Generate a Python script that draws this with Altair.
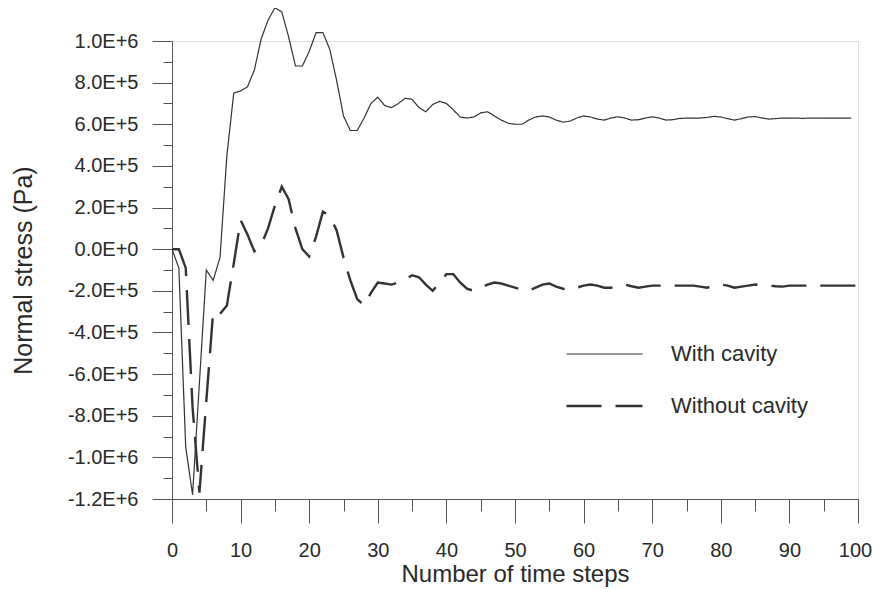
import altair as alt
import pandas as pd

# ---- data (stress values in units of 1E+5 Pa) ----
steps_with = list(range(0, 100))
with_cavity = [
    0.0, -0.9, -9.5, -11.8, -6.4, -1.0, -1.5, -0.4, 4.5, 7.5,
    7.6, 7.8, 8.6, 10.1, 11.0, 11.6, 11.4, 10.2, 8.8, 8.8,
    9.5, 10.4, 10.4, 9.6, 8.1, 6.4, 5.7, 5.7, 6.3, 7.0,
    7.3, 6.9, 6.8, 7.0, 7.25, 7.2, 6.8, 6.6, 6.95, 7.1,
    7.0, 6.7, 6.35, 6.3, 6.35, 6.55, 6.6, 6.4, 6.2, 6.05,
    6.0, 6.0, 6.2, 6.35, 6.4, 6.35, 6.2, 6.1, 6.15, 6.3,
    6.4, 6.35, 6.25, 6.2, 6.3, 6.36, 6.3, 6.2, 6.22, 6.3,
    6.36, 6.3, 6.2, 6.22, 6.28, 6.3, 6.3, 6.3, 6.33, 6.38,
    6.35, 6.27, 6.2, 6.27, 6.35, 6.37, 6.3, 6.25, 6.27, 6.3,
    6.3, 6.3, 6.28, 6.3, 6.3, 6.3, 6.3, 6.3, 6.3, 6.3,
]
steps_without = list(range(0, 101))
without_cavity = [
    0.0, 0.0, -0.9, -7.6, -11.7, -7.3, -3.0, -3.1, -2.7, -0.7,
    1.4, 0.7, -0.1, 0.2, 1.0, 2.1, 3.0, 2.4, 1.0, 0.0,
    -0.35, 0.6, 1.8, 1.6, 0.9, -0.4, -1.5, -2.4, -2.7, -2.1,
    -1.6, -1.65, -1.7, -1.6, -1.45, -1.25, -1.35, -1.7, -2.0, -1.6,
    -1.2, -1.2, -1.6, -1.9, -2.0, -1.85, -1.7, -1.6, -1.65, -1.75,
    -1.85, -1.95, -2.0, -1.85, -1.7, -1.65, -1.8, -1.9, -1.95, -1.85,
    -1.75, -1.7, -1.75, -1.85, -1.85, -1.78, -1.7, -1.78, -1.85, -1.8,
    -1.75, -1.75, -1.75, -1.75, -1.75, -1.75, -1.75, -1.8, -1.85, -1.75,
    -1.7, -1.75, -1.85, -1.8, -1.75, -1.7, -1.72, -1.75, -1.78, -1.8,
    -1.75, -1.75, -1.75, -1.75, -1.75, -1.75, -1.75, -1.75, -1.75, -1.75,
    -1.75,
]
series_names = ["With cavity", "Without cavity"]

x_tick_values = list(range(0, 101, 5))
x_label_values = list(range(0, 101, 10))
x_tick_labels = ["0", "10", "20", "30", "40", "50", "60", "70", "80", "90", "100"]

y_tick_values = list(range(-1200000, 1000001, 100000))
y_label_values = [1000000, 800000, 600000, 400000, 200000, 0,
                  -200000, -400000, -600000, -800000, -1000000, -1200000]
y_tick_labels = ["1.0E+6", "8.0E+5", "6.0E+5", "4.0E+5", "2.0E+5", "0.0E+0",
                 "-2.0E+5", "-4.0E+5", "-6.0E+5", "-8.0E+5", "-1.0E+6", "-1.2E+6"]

rows = []
for t, v in zip(steps_with, with_cavity):
    rows.append({"step": t, "stress": v * 1e5, "series": series_names[0]})
for t, v in zip(steps_without, without_cavity):
    rows.append({"step": t, "stress": v * 1e5, "series": series_names[1]})
df = pd.DataFrame(rows)


def label_expr(values, labels):
    expr = "''"
    for v, lab in reversed(list(zip(values, labels))):
        expr = f"datum.value == {v} ? '{lab}' : ({expr})"
    return expr


def major_test(values):
    return " || ".join(f"datum.value == {v}" for v in values)


FONT = "Liberation Sans"
TXT = "#2a2a2a"
AX = "#555555"

x_axis = alt.Axis(
    values=x_tick_values,
    labelExpr=label_expr(x_label_values, x_tick_labels),
    tickSize={"condition": {"test": major_test(x_label_values), "value": 24}, "value": 12},
    labelFont=FONT, labelFontSize=20, labelColor=TXT, labelPadding=17,
    labelOffset={"condition": {"test": "datum.value == 100", "value": -3}, "value": 0},
    labelFlush=False, labelOverlap=False,
    title="Number of time steps", titleFont=FONT, titleFontSize=24,
    titleFontWeight="normal", titleColor=TXT, titlePadding=2,
    domainColor=AX, tickColor=AX, grid=False,
)
y_axis = alt.Axis(
    values=y_tick_values,
    labelExpr=label_expr(y_label_values, y_tick_labels),
    tickSize={"condition": {"test": major_test(y_label_values), "value": 20}, "value": 9},
    labelFont=FONT, labelFontSize=20, labelColor=TXT, labelPadding=14,
    labelFlush=False, labelOverlap=False,
    title="Normal stress (Pa)", titleFont=FONT, titleFontSize=25,
    titleFontWeight="normal", titleColor=TXT, titlePadding=31,
    domainColor=AX, tickColor=AX, grid=False,
)

legend_opts = dict(
    title=None, orient="none", legendX=393, legendY=300,
    symbolType="stroke", symbolSize=5776, symbolStrokeColor="#333333",
    labelFont=FONT, labelFontSize=22, labelColor=TXT, labelOffset=27,
    labelLimit=400, clipHeight=26, rowPadding=26,
)

chart = alt.Chart(df).mark_line(color="#333333", strokeCap="butt").encode(
    x=alt.X("step:Q", scale=alt.Scale(domain=[0, 100], nice=False, zero=False), axis=x_axis),
    y=alt.Y("stress:Q", scale=alt.Scale(domain=[-1200000, 1000000], nice=False, zero=False), axis=y_axis),
    detail="series:N",
    strokeDash=alt.StrokeDash(
        "series:N",
        scale=alt.Scale(domain=series_names, range=[[1, 0], [35, 14]]),
        legend=alt.Legend(**legend_opts),
    ),
    strokeWidth=alt.StrokeWidth(
        "series:N",
        scale=alt.Scale(domain=series_names, range=[1.2, 2.4]),
        legend=alt.Legend(**legend_opts),
    ),
).properties(
    width=686, height=458,
    autosize=alt.AutoSizeParams(type="none"),
    padding={"left": 164, "top": 33, "right": 14, "bottom": 92},
).configure_view(stroke=None).configure(background="white")

chart.save("out.html", embed_options={"renderer": "svg", "actions": False})
